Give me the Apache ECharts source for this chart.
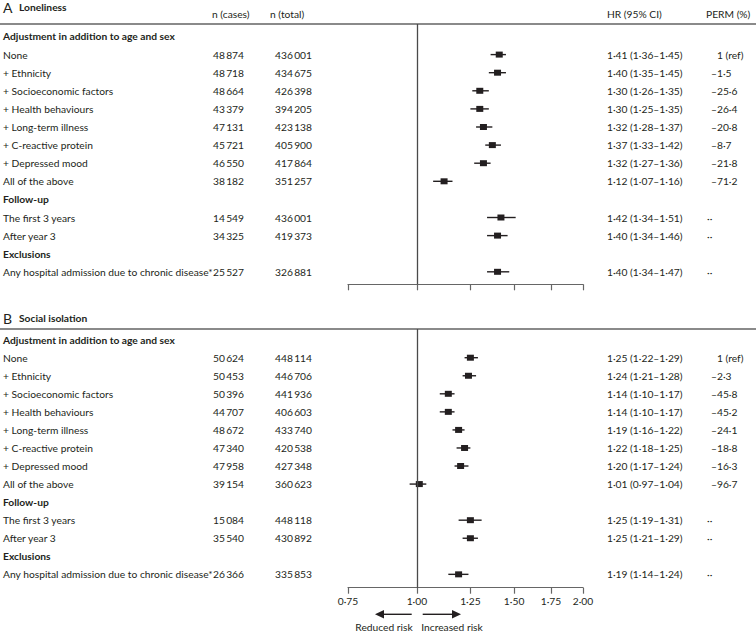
<!DOCTYPE html>
<html><head><meta charset="utf-8">
<script src="https://cdn.jsdelivr.net/npm/echarts@6/dist/echarts.min.js"></script>
<style>html,body{margin:0;padding:0;background:#fff}#c{width:756px;height:633px}</style>
</head><body><div id="c"></div>
<script>
// ---------- data ----------
const rowLabels = ['Adjustment in addition to age and sex','None','+ Ethnicity','+ Socioeconomic factors','+ Health behaviours','+ Long-term illness','+ C-reactive protein','+ Depressed mood','All of the above','Follow-up','The first 3 years','After year 3','Exclusions','Any hospital admission due to chronic disease*'];
const headerRows = [0, 9, 12];
const dataRows = [1, 2, 3, 4, 5, 6, 7, 8, 10, 11, 13];

const lonCases = [48874, 48718, 48664, 43379, 47131, 45721, 46550, 38182, 14549, 34325, 25527];
const lonTotal = [436001, 434675, 426398, 394205, 423138, 405900, 417864, 351257, 436001, 419373, 326881];
const lonHR = [1.41, 1.40, 1.30, 1.30, 1.32, 1.37, 1.32, 1.12, 1.42, 1.40, 1.40];
const lonLo = [1.36, 1.35, 1.26, 1.25, 1.28, 1.33, 1.27, 1.07, 1.34, 1.34, 1.34];
const lonHi = [1.45, 1.45, 1.35, 1.35, 1.37, 1.42, 1.36, 1.16, 1.51, 1.46, 1.47];
const lonPerm = ['1 (ref)', '\u20131\u00b75', '\u201325\u00b76', '\u201326\u00b74', '\u201320\u00b78', '\u20138\u00b77', '\u201321\u00b78', '\u201371\u00b72', '\u00b7\u00b7', '\u00b7\u00b7', '\u00b7\u00b7'];

const socCases = [50624, 50453, 50396, 44707, 48672, 47340, 47958, 39154, 15084, 35540, 26366];
const socTotal = [448114, 446706, 441936, 406603, 433740, 420538, 427348, 360623, 448118, 430892, 335853];
const socHR = [1.25, 1.24, 1.14, 1.14, 1.19, 1.22, 1.20, 1.01, 1.25, 1.25, 1.19];
const socLo = [1.22, 1.21, 1.10, 1.10, 1.16, 1.18, 1.17, 0.97, 1.19, 1.21, 1.14];
const socHi = [1.29, 1.28, 1.17, 1.17, 1.22, 1.25, 1.24, 1.04, 1.31, 1.29, 1.24];
const socPerm = ['1 (ref)', '\u20132\u00b73', '\u201345\u00b78', '\u201345\u00b72', '\u201324\u00b71', '\u201318\u00b78', '\u201316\u00b73', '\u201396\u00b77', '\u00b7\u00b7', '\u00b7\u00b7', '\u00b7\u00b7'];

const tickValues = [0.75, 1.00, 1.25, 1.50, 1.75, 2.00];

// ---------- helpers ----------
const INK = '#231f20';
const FONT = 'Lato';
const FS = (function () {
  const ctx = document.createElement('canvas').getContext('2d');
  ctx.font = '100px Lato';
  const w = ctx.measureText(rowLabels[13]).width;
  const f = 100 * 210 / w;
  return (f > 8 && f < 14) ? f : 10.3;
})();
function fmtN(n) { return String(n).replace(/\B(?=(\d{3})+(?!\d))/g, '\u2009'); }
function fmtD(v) { return v.toFixed(2).replace('.', '\u00b7'); }
function hrText(h, l, u) { return fmtD(h) + ' (' + fmtD(l) + '\u2013' + fmtD(u) + ')'; }
function txt(x, y, s, opts) {
  return { type: 'text', x: x, y: y, style: Object.assign({
    text: s, fill: INK, fontSize: FS, fontFamily: FONT, align: 'left', verticalAlign: 'middle'
  }, opts || {}) };
}

function panelSeries(gi, cases, totals, hr, lo, hi, perm) {
  const tableSeries = {
    type: 'custom', xAxisIndex: gi, yAxisIndex: gi, silent: true, animation: false,
    data: rowLabels.map((_, i) => [1, i]),
    renderItem: function (params, api) {
      const r = api.value(1);
      const y = api.coord([1, r])[1];
      const ch = [];
      const head = headerRows.indexOf(r) >= 0;
      ch.push(txt(3, y, rowLabels[r], { fontWeight: head ? 'bold' : 'normal' }));
      const k = dataRows.indexOf(r);
      if (k >= 0) {
        ch.push(txt(244, y, fmtN(cases[k]), { align: 'right' }));
        ch.push(txt(312, y, fmtN(totals[k]), { align: 'right' }));
        ch.push(txt(607, y, hrText(hr[k], lo[k], hi[k])));
        const p = perm[k];
        const px = p === '1 (ref)' ? 717 : (p.indexOf('\u00b7\u00b7') === 0 ? 707 : 711);
        ch.push(txt(px, y, p));
      }
      return { type: 'group', children: ch };
    }
  };
  const forestSeries = {
    type: 'custom', xAxisIndex: gi, yAxisIndex: gi, silent: true, animation: false,
    data: hr.map((h, k) => [h, dataRows[k], lo[k], hi[k]]),
    encode: { x: 0, y: 1 },
    renderItem: function (params, api) {
      const c = api.coord([api.value(0), api.value(1)]);
      const a = api.coord([api.value(2), api.value(1)]);
      const b = api.coord([api.value(3), api.value(1)]);
      return { type: 'group', children: [
        { type: 'line', shape: { x1: a[0], y1: a[1], x2: b[0], y2: b[1] }, style: { stroke: INK, lineWidth: 1.4 } },
        { type: 'rect', shape: { x: c[0] - 3.5, y: c[1] - 3, width: 7, height: 6 }, style: { fill: INK } }
      ] };
    },
    markLine: {
      silent: true, symbol: 'none', label: { show: false },
      lineStyle: { color: '#4a4a4a', width: 1.3, type: 'solid' },
      data: [{ xAxis: 1 }]
    }
  };
  return [tableSeries, forestSeries];
}

function xAxisCfg(gi, showLabels) {
  return {
    type: 'log', gridIndex: gi, min: 0.75, max: 2, position: 'bottom',
    axisLine: { show: true, onZero: false, lineStyle: { color: '#666', width: 1.2 } },
    axisTick: { show: true, length: 6, customValues: tickValues, lineStyle: { color: '#666', width: 1.2 } },
    axisLabel: { show: showLabels, customValues: tickValues, margin: 8, color: INK, fontSize: FS, fontFamily: FONT,
      formatter: v => fmtD(v) },
    splitLine: { show: false }, minorTick: { show: false }
  };
}

const chart = echarts.init(document.getElementById('c'), null, { renderer: 'svg' });
const option = {
  animation: false,
  backgroundColor: '#fff',
  grid: [
    { left: 348, width: 235, top: 24, height: 260.3 },
    { left: 348, width: 235, top: 329, height: 258.7 }
  ],
  xAxis: [xAxisCfg(0, false), xAxisCfg(1, true)],
  yAxis: [
    { type: 'value', gridIndex: 0, inverse: true, min: -0.69, max: 13.69, show: false },
    { type: 'value', gridIndex: 1, inverse: true, min: -0.59, max: 13.74, show: false }
  ],
  series: [].concat(
    panelSeries(0, lonCases, lonTotal, lonHR, lonLo, lonHi, lonPerm),
    panelSeries(1, socCases, socTotal, socHR, socLo, socHi, socPerm)
  ),
  graphic: [
    txt(3, 7, 'A', { fontSize: 14 }),
    txt(19, 7, 'Loneliness', { fontWeight: 'bold' }),
    txt(212, 13.5, 'n (cases)'),
    txt(270, 13.5, 'n (total)'),
    txt(607, 13.5, 'HR (95% CI)'),
    txt(706, 13.5, 'PERM (%)'),
    { type: 'line', shape: { x1: 0, y1: 24, x2: 756, y2: 24 }, style: { stroke: '#8a8a8a', lineWidth: 2 } },
    txt(3, 318, 'B', { fontSize: 14 }),
    txt(19, 318, 'Social isolation', { fontWeight: 'bold' }),
    { type: 'line', shape: { x1: 0, y1: 329, x2: 756, y2: 329 }, style: { stroke: '#8a8a8a', lineWidth: 2 } },
    { type: 'line', shape: { x1: 411.7, y1: 614.3, x2: 383, y2: 614.3 }, style: { stroke: INK, lineWidth: 1.4 } },
    { type: 'polygon', shape: { points: [[375, 614.3], [384, 610], [384, 618.6]] }, style: { fill: INK } },
    { type: 'line', shape: { x1: 422.7, y1: 614.3, x2: 452, y2: 614.3 }, style: { stroke: INK, lineWidth: 1.4 } },
    { type: 'polygon', shape: { points: [[461, 614.3], [452, 610], [452, 618.6]] }, style: { fill: INK } },
    txt(384, 627, 'Reduced risk', { align: 'center' }),
    txt(452, 627, 'Increased risk', { align: 'center' })
  ]
};
chart.setOption(option);
</script>
</body></html>
